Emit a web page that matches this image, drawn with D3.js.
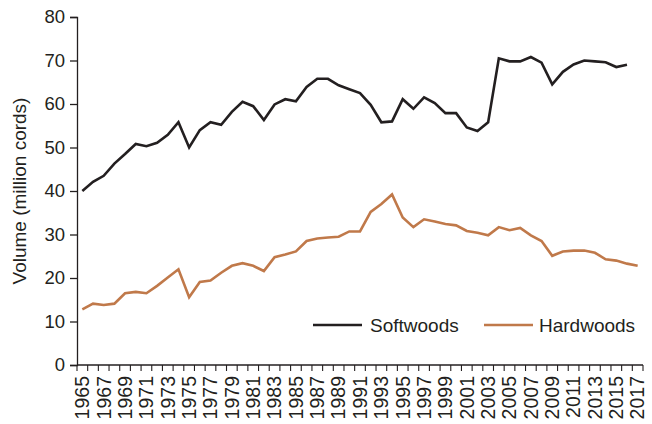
<!DOCTYPE html>
<html>
<head>
<meta charset="utf-8">
<script src="https://cdn.jsdelivr.net/npm/d3@7"></script>
<style>
  body { margin: 0; background: #fff; }
  svg { display: block; font-family: "Liberation Sans", Arial, Helvetica, sans-serif; }
</style>
</head>
<body>
<svg id="chart" width="652" height="424"></svg>
<script>
const years = d3.range(1965, 2018);
const softwoods = [40.0, 42.1, 43.5, 46.3, 48.5, 50.8, 50.3, 51.1, 52.9, 55.8, 50.0, 54.0, 55.8, 55.2, 58.2, 60.5, 59.5, 56.3, 59.9, 61.1, 60.6, 63.9, 65.8, 65.8, 64.3, 63.4, 62.5, 59.8, 55.8, 56.0, 61.1, 58.9, 61.5, 60.2, 57.9, 57.9, 54.6, 53.8, 55.8, 70.5, 69.8, 69.8, 70.8, 69.5, 64.5, 67.4, 69.1, 70.0, 69.8, 69.6, 68.5, 69.0];
const hardwoods = [12.8, 14.1, 13.8, 14.1, 16.5, 16.8, 16.5, 18.2, 20.1, 22.0, 15.6, 19.1, 19.4, 21.2, 22.8, 23.4, 22.8, 21.6, 24.8, 25.4, 26.1, 28.5, 29.1, 29.3, 29.5, 30.7, 30.7, 35.2, 37.0, 39.2, 33.9, 31.7, 33.5, 33.0, 32.4, 32.1, 30.8, 30.4, 29.8, 31.7, 31.0, 31.5, 29.8, 28.5, 25.1, 26.1, 26.3, 26.3, 25.8, 24.3, 24.0, 23.3, 22.8];
const yTicks = [0, 10, 20, 30, 40, 50, 60, 70, 80];
const seriesNames = ["Softwoods", "Hardwoods"];
const colors = ["#231f20", "#c0794a"];

const svg = d3.select("#chart");
const ink = "#231f20";

const x = d3.scaleBand().domain(years).range([77, 643]);
const y = d3.scaleLinear().domain([0, 80]).range([365, 17]);
const cx = d => x(d) + x.bandwidth() / 2;

// Y axis
const yAxis = svg.append("g").attr("transform", "translate(77,0)")
  .call(d3.axisLeft(y).tickValues(yTicks).tickSize(7).tickPadding(5));
yAxis.select(".domain").attr("stroke", ink).attr("stroke-width", 1.3);
yAxis.selectAll(".tick line").attr("stroke", ink).attr("stroke-width", 1.3);
yAxis.selectAll(".tick text").attr("fill", ink).style("font-size", "18.5px")
  .attr("font-family", "Liberation Sans, Arial, sans-serif");

// X axis: ticks at band boundaries
const xg = svg.append("g").attr("transform", "translate(0,365)");
xg.append("line").attr("x1", 77).attr("x2", 643).attr("y1", 0).attr("y2", 0)
  .attr("stroke", ink).attr("stroke-width", 1.3);
const bounds = years.map(d => x(d)).concat([x(years[years.length - 1]) + x.bandwidth()]);
xg.selectAll("line.tk").data(bounds).enter().append("line").attr("class", "tk")
  .attr("x1", d => d).attr("x2", d => d).attr("y1", 0).attr("y2", 6)
  .attr("stroke", ink).attr("stroke-width", 1.1);
xg.selectAll("text").data(years.filter((d, i) => i % 2 === 0)).enter().append("text")
  .attr("transform", d => `translate(${cx(d)},11) rotate(-90)`)
  .attr("text-anchor", "end").attr("dy", "0.35em")
  .attr("fill", ink).style("font-size", "19.5px")
  .text(d => d);

// Y title
svg.append("text")
  .attr("transform", "translate(26,191) rotate(-90)")
  .attr("text-anchor", "middle")
  .attr("fill", ink).style("font-size", "19px")
  .text("Volume (million cords)");

// Lines
const line = d3.line().x(d => cx(d[0])).y(d => y(d[1]));
[softwoods, hardwoods].forEach((vals, i) => {
  svg.append("path")
    .datum(vals.map((v, j) => [years[j], v]))
    .attr("fill", "none").attr("stroke", colors[i]).attr("stroke-width", 2.6)
    .attr("stroke-linejoin", "miter").attr("d", line);
});

// Legend
const legendPos = [{lx: 313, tx: 370}, {lx: 484, tx: 539}];
seriesNames.forEach((name, i) => {
  svg.append("line").attr("x1", legendPos[i].lx).attr("x2", legendPos[i].lx + 49)
    .attr("y1", 325).attr("y2", 325).attr("stroke", colors[i]).attr("stroke-width", 2.6);
  svg.append("text").attr("x", legendPos[i].tx).attr("y", 332)
    .attr("fill", ink).style("font-size", "19px").text(name);
});
</script>
</body>
</html>
